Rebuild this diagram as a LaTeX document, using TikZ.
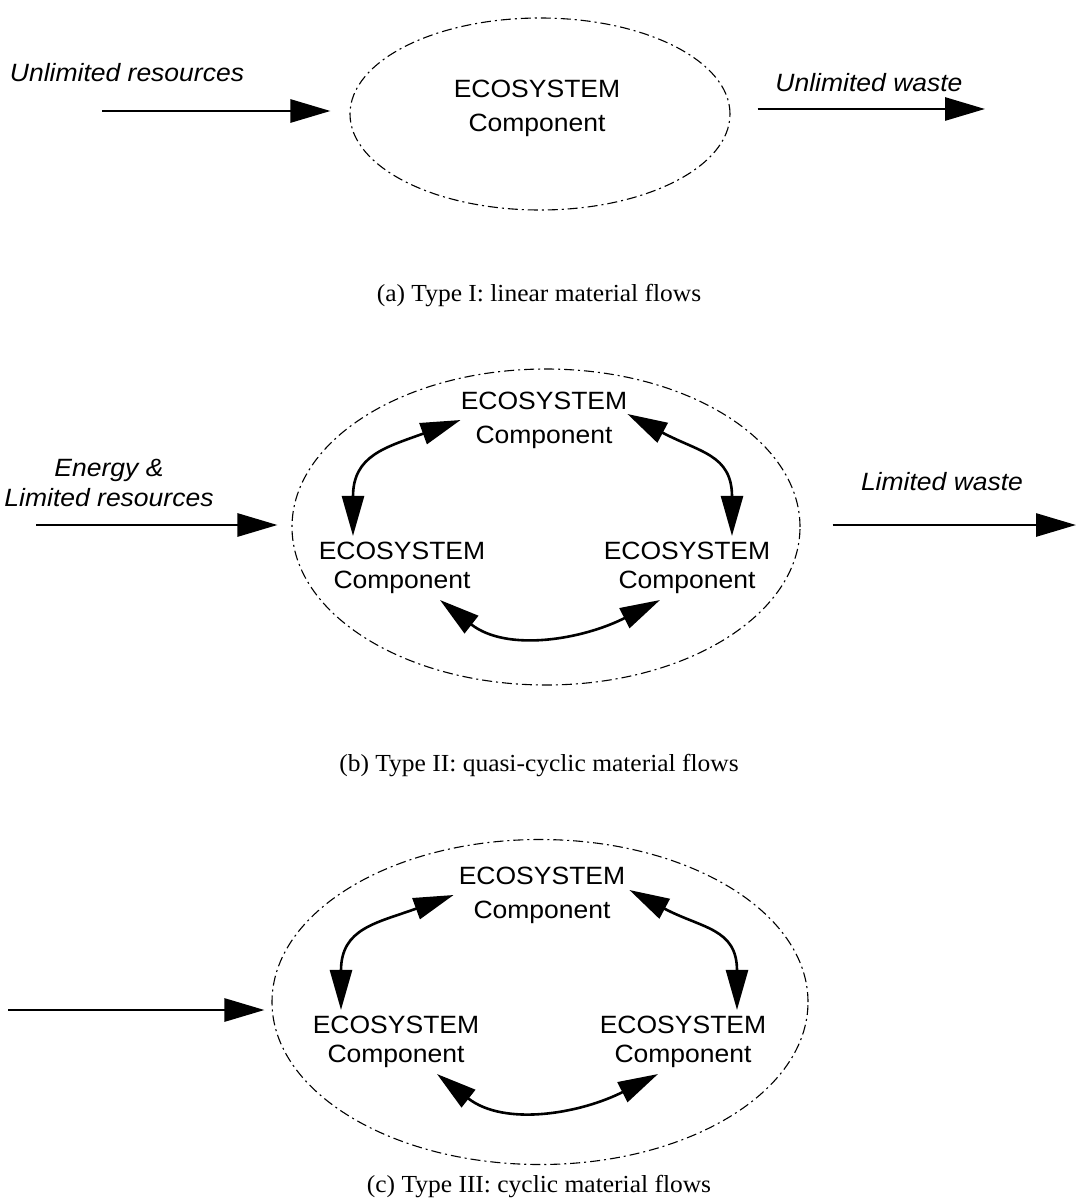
\documentclass[tikz,border=0pt]{standalone}
\usepackage{fontspec}
\setmainfont{Liberation Serif}[FakeStretch=1.04]
\newfontfamily\helv{Liberation Sans}[FakeStretch=1.06]
\usetikzlibrary{arrows.meta,shapes.geometric}

\begin{document}
\begin{tikzpicture}[x=1pt, y=1pt,
    comp/.style={font=\helv\fontsize{25}{34}\selectfont, align=center, inner xsep=0pt, inner ysep=6pt},
    lowcomp/.style={comp, font=\helv\fontsize{25}{29}\selectfont},
    flowlabel/.style={font=\helv\itshape\fontsize{25}{30}\selectfont, align=center, inner sep=0pt},
    caption/.style={font=\fontsize{24.5}{28}\selectfont, inner sep=0pt},
    boundary/.style={draw, ellipse, line width=1.1pt, dash pattern=on 10pt off 4pt on 2pt off 4pt, inner sep=0pt},
    flow/.style={line width=2.8pt, -{Triangle[length=40pt,width=23pt]}},
    link/.style={line width=2.6pt, {Triangle[length=40pt,width=22pt]}-{Triangle[length=40pt,width=22pt]}}]
  \useasboundingbox (0,0) rectangle (1078,-1201);
  % (a) linear flows: one component, open in and out
  \node[boundary, minimum width=380pt, minimum height=192pt] (sysa) at (540,-114) {};
  \node[comp] (compa) at (537,-108) {ECOSYSTEM\\Component};
  \coordinate (ina) at (102,-111);
  \coordinate (outa) at (985,-109);
  \draw[flow, shorten >=19pt] (ina) -- (ina -| sysa.west);
  \draw[flow, shorten <=27pt] (sysa.east |- outa) -- (outa);
  \node[flowlabel] (resa) at (127,-73) {Unlimited resources};
  \node[flowlabel] (wastea) at (869,-83) {Unlimited waste};
  \node[caption] (capa) at (539,-296) {(a) Type I: linear material flows};
  % (b) quasi-cyclic: three components, limited in and out
  \node[boundary, minimum width=508pt, minimum height=316pt] (sysb) at (546,-527) {};
  \node[comp] (topb) at (544,-420) {ECOSYSTEM\\Component};
  \node[lowcomp] (leftb) at (402,-568) {ECOSYSTEM\\Component};
  \node[lowcomp] (rightb) at (687,-568) {ECOSYSTEM\\Component};
  \draw[link] (topb.west) to[out=200, in=90, looseness=1.3] ([xshift=-49pt]leftb.north);
  \draw[link] ([yshift=6pt]topb.east) to[out=-28, in=90, looseness=1.3] ([xshift=45pt]rightb.north);
  \draw[link] ([xshift=38pt]leftb.south) to[out=-38, in=207] ([xshift=-27pt]rightb.south);
  \coordinate (inb) at (36,-525);
  \coordinate (outb) at (1076,-525);
  \draw[flow, shorten >=14pt] (inb) -- (inb -| sysb.west);
  \draw[flow, shorten <=32pt] (sysb.east |- outb) -- (outb);
  \node[flowlabel] (resb) at (109,-483) {Energy \&\\Limited resources};
  \node[flowlabel] (wasteb) at (942,-482) {Limited waste};
  \node[caption] (capb) at (539,-766) {(b) Type II: quasi-cyclic material flows};
  % (c) cyclic: three components, energy in only
  \node[boundary, minimum width=536pt, minimum height=325pt] (sysc) at (540,-1002) {};
  \node[comp] (topc) at (542,-895) {ECOSYSTEM\\Component};
  \node[lowcomp] (leftc) at (396,-1042) {ECOSYSTEM\\Component};
  \node[lowcomp] (rightc) at (683,-1042) {ECOSYSTEM\\Component};
  \draw[link] ([xshift=-5pt]topc.west) to[out=200, in=90, looseness=1.3] ([xshift=-55pt]leftc.north);
  \draw[link] ([xshift=4pt, yshift=5pt]topc.east) to[out=-28, in=90, looseness=1.3] ([xshift=54pt]rightc.north);
  \draw[link] ([xshift=41pt]leftc.south) to[out=-38, in=207] ([xshift=-25pt]rightc.south);
  \coordinate (inc) at (8,-1010);
  \draw[flow, shorten >=7pt] (inc) -- (inc -| sysc.west);
  \node[caption] (capc) at (539,-1187) {(c) Type III: cyclic material flows};
\end{tikzpicture}
\end{document}
